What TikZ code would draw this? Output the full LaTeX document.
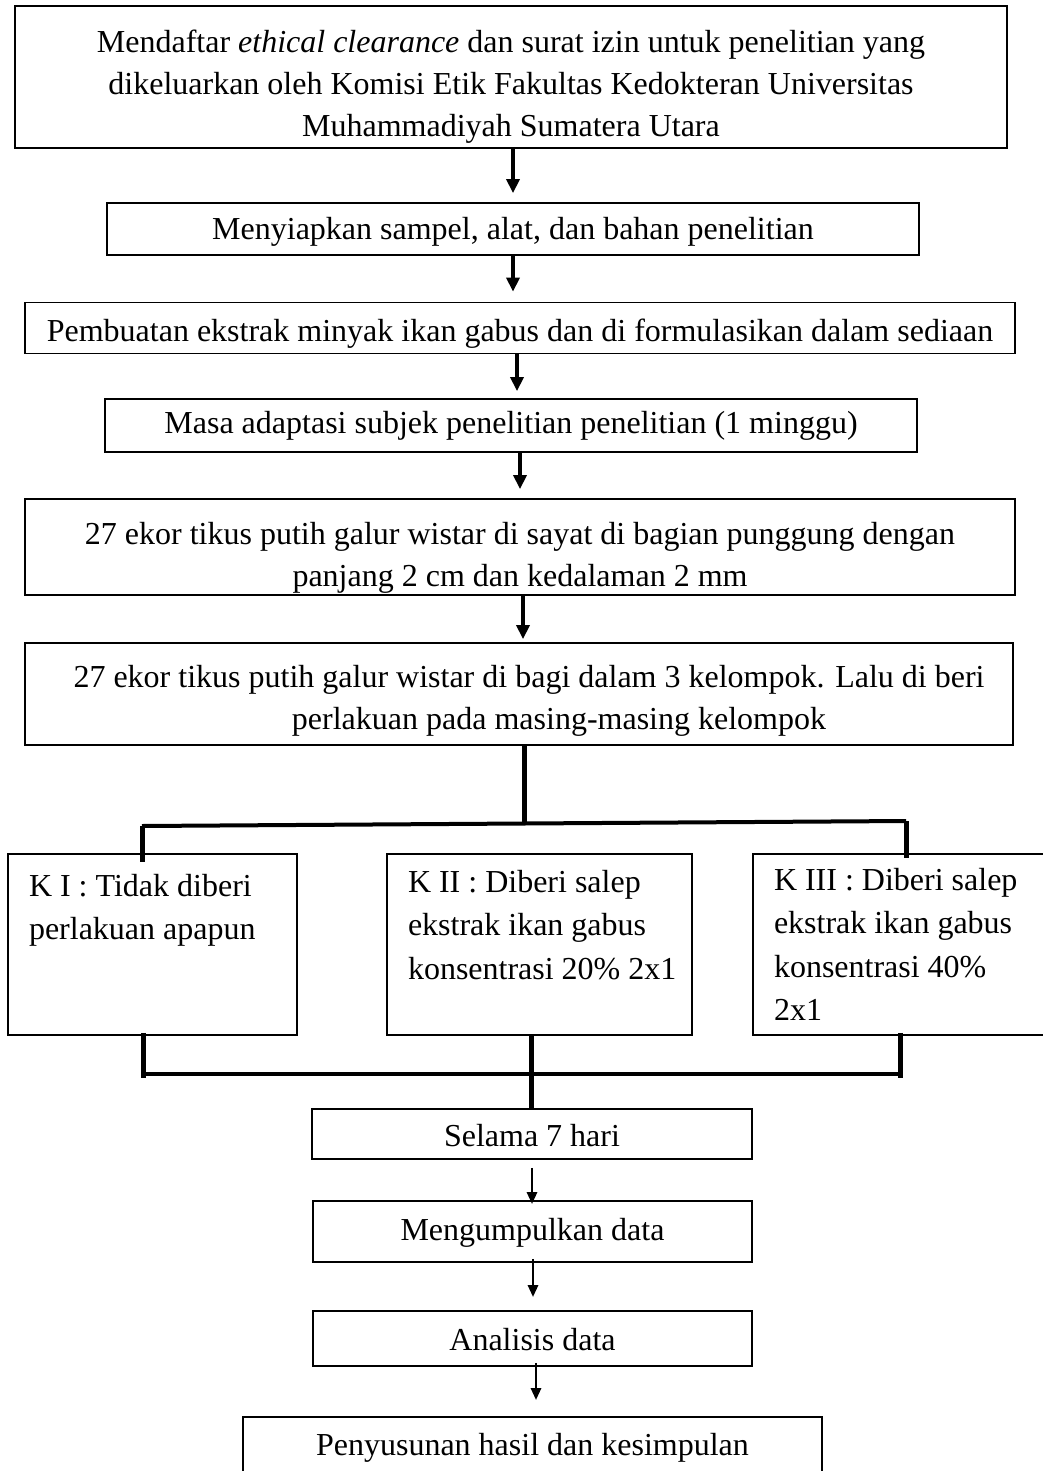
\documentclass[tikz,border=0pt]{standalone}
\usepackage{fontspec}
\setmainfont{Liberation Serif}
\usetikzlibrary{arrows.meta}
\newlength{\kw}
\newcommand{\kbody}[2]{\setlength{\kw}{#1}\parbox[c][181pt][t]{\kw}{#2}}
\newcommand{\kl}[1]{\hbox to \kw{\kern21pt #1\hss}}
\begin{document}
\begin{tikzpicture}[x=1pt,y=-1pt]
\tikzset{
  box/.style={draw, line width=1.8pt, inner sep=0pt, align=center, font=\fontsize{32}{42}\selectfont},
  kbox/.style={draw, line width=1.8pt, inner sep=0pt, font=\fontsize{32}{43.5}\selectfont},
  arr/.style={line width=3.5pt, -{Triangle[length=14pt,width=13pt]}},
  arrs/.style={line width=2.8pt, -{Triangle[length=12pt,width=10pt]}},
  treev/.style={line width=5pt},
  treeh/.style={line width=4pt},
}
\fill[white] (0,0) rectangle (1043,1471);
\useasboundingbox (0,0) rectangle (1043,1471);
\clip (0,0) rectangle (1043,1471);

\node[box, minimum width=992pt, minimum height=142pt] (b1) at (511,77)
  {\rule{0pt}{41pt}Mendaftar \textit{ethical clearance} dan surat izin untuk penelitian yang\\dikeluarkan oleh Komisi Etik Fakultas Kedokteran Universitas\\Muhammadiyah Sumatera Utara};
\node[box, minimum width=812pt, minimum height=52pt, text height=24pt, text depth=2pt] (b2) at (513,229)
  {Menyiapkan sampel, alat, dan bahan penelitian};
\node[box, minimum width=990pt, minimum height=51pt, text height=26pt, text depth=0pt] (b3) at (520,328)
  {Pembuatan ekstrak minyak ikan gabus dan di formulasikan dalam sediaan};
\node[box, minimum width=812pt, minimum height=53pt, text height=22pt, text depth=7pt] (b4) at (511,425.5)
  {Masa adaptasi subjek penelitian penelitian (1 minggu)};
\node[box, minimum width=990pt, minimum height=96pt] (b5) at (520,547)
  {\rule{0pt}{43pt}27 ekor tikus putih galur wistar di sayat di bagian punggung dengan\\panjang 2 cm dan kedalaman 2 mm};
\node[box, minimum width=988pt, minimum height=102pt] (b6) at (519,694)
  {\rule{0pt}{35pt}\hspace*{20pt}27 ekor tikus putih galur wistar di bagi dalam 3 kelompok. Lalu di beri\\\hspace*{80pt}perlakuan pada masing-masing kelompok};

\node[kbox] (k1) at (152.5,944.5)
  {\kbody{289pt}{\kl{\rule{0pt}{42pt}K I : Tidak diberi}\kl{perlakuan apapun}}};
\node[kbox] (k2) at (539.5,944.5)
  {\kbody{305pt}{\kl{\rule{0pt}{38pt}K II : Diberi salep}\kl{ekstrak ikan gabus}\kl{konsentrasi 20\% 2x1}}};
\node[kbox] (k3) at (899.5,944.5)
  {\kbody{293pt}{\kl{\rule{0pt}{36pt}K III : Diberi salep}\kl{ekstrak ikan gabus}\kl{konsentrasi 40\%}\kl{2x1}}};

\node[box, minimum width=440pt, minimum height=50pt, text height=26pt, text depth=2pt] (s) at (532,1134)
  {Selama 7 hari};
\node[box, minimum width=439pt, minimum height=61pt, text height=22pt, text depth=5pt] (m) at (532.5,1231.5)
  {Mengumpulkan data};
\node[box, minimum width=439pt, minimum height=55pt, text height=23pt, text depth=0pt] (a) at (532.5,1338.5)
  {Analisis data};
\node[box, minimum width=579pt, minimum height=58pt, text height=22pt, text depth=4pt] (f) at (532.5,1446)
  {Penyusunan hasil dan kesimpulan};

% arrows
\draw[arr, shorten >=9pt] (b1.south -| b2.north) -- (b2.north);
\draw[arr, shorten >=10pt] (b2.south) -- (b2.south |- b3.north);
\draw[arr, shorten >=7pt] ([xshift=-3pt]b3.south) -- ([xshift=-3pt]b3.south |- b4.north);
\draw[arr, shorten >=9pt] ([xshift=9pt]b4.south) -- ([xshift=9pt]b4.south |- b5.north);
\draw[arr, shorten >=3pt] ([xshift=3pt]b5.south) -- ([xshift=3pt]b5.south |- b6.north);

% tree top
\coordinate (j0) at (524,824);
\coordinate (tl) at (142,826);
\coordinate (tr) at (906,821);
\draw[treev] ([xshift=5pt]b6.south) -- (j0);
\draw[treeh] (tl) -- (tr);
\draw[treev] (tl) -- ([yshift=-9pt]tl |- k1.north);
\draw[treev] (tr) -- ([yshift=-5pt]tr |- k3.north);

% tree bottom
\coordinate (bl) at (143,1074);
\coordinate (br) at (900,1074);
\coordinate (bm) at (531,1074);
\draw[treev] ([yshift=3pt]bl |- k1.south) -- ([yshift=-4pt]bl);
\draw[treev] ([yshift=3pt]br |- k3.south) -- ([yshift=-4pt]br);
\draw[treeh] (bl) -- (br);
\draw[treev] (bm |- k2.south) -- (bm |- s.north);

% lower arrows
\draw[arrs, shorten <=8pt, shorten >=-4pt] (s.south) -- (s.south |- m.north);
\draw[arrs, shorten <=-4pt, shorten >=13pt] ([xshift=0.5pt]m.south) -- ([xshift=0.5pt]m.south |- a.north);
\draw[arrs, shorten <=-4pt, shorten >=16pt] ([xshift=3.5pt]a.south) -- ([xshift=3.5pt]a.south |- f.north);
\end{tikzpicture}
\end{document}
